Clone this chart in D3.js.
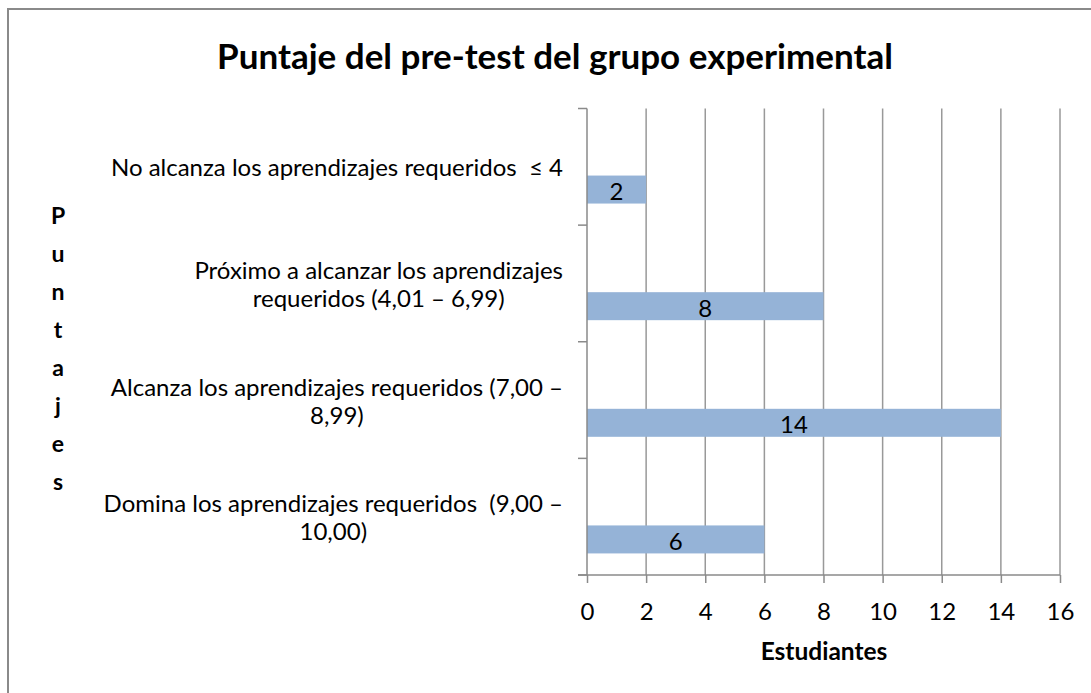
<!DOCTYPE html>
<html><head><meta charset="utf-8">
<script src="https://cdn.jsdelivr.net/npm/d3@7"></script>
<style>body{margin:0;background:#fff}svg{display:block}text{font-family:Lato,"Open Sans",sans-serif;fill:#000;white-space:pre}</style>
</head><body>
<svg id="c" width="1091" height="693"></svg>
<script>
const title = "Puntaje del pre-test del grupo experimental";
const categories = [
  ["No alcanza los aprendizajes requeridos  \u2264 4"],
  ["Próximo a alcanzar los aprendizajes", "requeridos (4,01 \u2013 6,99)"],
  ["Alcanza los aprendizajes requeridos (7,00 \u2013", "8,99)"],
  ["Domina los aprendizajes requeridos  (9,00 \u2013", "10,00)"]
];
const values = [2, 8, 14, 6];
const xTicks = [0, 2, 4, 6, 8, 10, 12, 14, 16];
const xTitle = "Estudiantes";
const yTitle = "Puntajes";

const svg = d3.select("#c");
svg.append("rect").attr("x", 8).attr("y", 9).attr("width", 1100).attr("height", 700)
  .attr("fill", "#fff").attr("stroke", "#8a8a8a").attr("stroke-width", 2);

const L = 587, R = 1060, T = 108.5, B = 575;
const x = d3.scaleLinear().domain([0, 16]).range([L, R]);
const y = d3.scaleBand().domain(d3.range(categories.length)).range([T, B]).paddingInner(0).paddingOuter(0);

// gridlines
svg.append("g").selectAll("line").data(xTicks.slice(1)).join("line")
  .attr("x1", d => x(d)).attr("x2", d => x(d)).attr("y1", T).attr("y2", B)
  .attr("stroke", "#999").attr("stroke-width", 1.5);

// bars
const bw = y.bandwidth();
svg.append("g").selectAll("rect").data(values).join("rect")
  .attr("x", x(0)).attr("y", (d, i) => y(i) + bw * 0.575)
  .attr("width", d => x(d) - x(0)).attr("height", bw * 0.24)
  .attr("fill", "#95b3d7");

// bar labels
svg.append("g").selectAll("text").data(values).join("text")
  .attr("x", d => (x(d) + x(0)) / 2).attr("y", (d, i) => y(i) + bw * 0.695 + 1)
  .attr("text-anchor", "middle").attr("dominant-baseline", "central")
  .attr("font-size", 24).text(d => d);

// x axis
const xAxis = d3.axisBottom(x).tickValues(xTicks).tickSize(8).tickPadding(20).tickFormat(d3.format("d"));
const gx = svg.append("g").attr("transform", `translate(0,${B})`).call(xAxis);
gx.select(".domain").attr("stroke", "#8a8a8a").attr("stroke-width", 1.5).attr("d", `M${L - 9},0H${R}`);
gx.selectAll(".tick line").attr("stroke", "#8a8a8a").attr("stroke-width", 1.5);
gx.selectAll(".tick text").attr("font-size", 24).attr("font-family", "Lato").attr("fill", "#000");

// y axis (category boundaries)
const bounds = d3.range(categories.length + 1).map(i => T + i * bw);
svg.append("line").attr("x1", L).attr("x2", L).attr("y1", T).attr("y2", B)
  .attr("stroke", "#8a8a8a").attr("stroke-width", 1.5);
svg.append("g").selectAll("line").data(bounds).join("line")
  .attr("x1", L - 9).attr("x2", L).attr("y1", d => d).attr("y2", d => d)
  .attr("stroke", "#8a8a8a").attr("stroke-width", 1.5);

// category labels
const labelRight = 563, lh = 28;
categories.forEach((lines, i) => {
  const g = svg.append("g");
  const cy = y(i) + bw / 2;
  const ts = lines.map((ln, j) => g.append("text")
    .attr("y", cy + (j - (lines.length - 1) / 2) * lh)
    .attr("dominant-baseline", "central").attr("text-anchor", "middle")
    .attr("font-size", 24).text(ln));
  const maxW = d3.max(ts, t => t.node().getComputedTextLength());
  ts.forEach(t => t.attr("x", labelRight - maxW / 2));
});

// title
svg.append("text").attr("x", 555).attr("y", 55).attr("text-anchor", "middle")
  .attr("dominant-baseline", "central").attr("font-weight", "bold").attr("font-size", 35).text(title);

// x title
svg.append("text").attr("x", 824).attr("y", 650).attr("text-anchor", "middle")
  .attr("dominant-baseline", "central").attr("font-weight", "bold").attr("font-size", 24.5).text(xTitle);

// y title stacked letters
svg.append("g").selectAll("text").data(yTitle.split("")).join("text")
  .attr("x", 58).attr("y", (d, i) => 215 + i * 38)
  .attr("text-anchor", "middle").attr("dominant-baseline", "central")
  .attr("font-weight", "bold").attr("font-size", 23).text(d => d);
</script>
</body></html>
